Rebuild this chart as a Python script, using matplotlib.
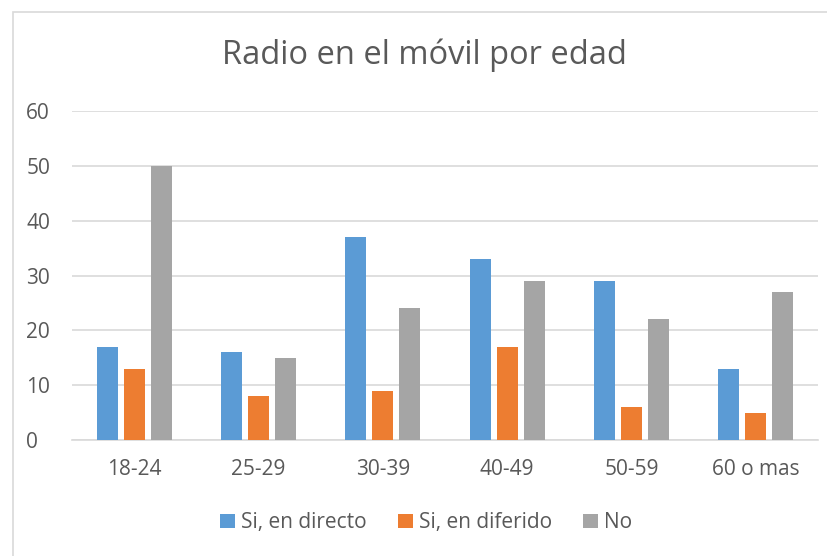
import numpy as np
import matplotlib.pyplot as plt
from matplotlib.patches import Rectangle

# Datos del gráfico
categorias = ['18-24', '25-29', '30-39', '40-49', '50-59', '60 o mas']
directo = [17, 16, 37, 33, 29, 13]
diferido = [13, 8, 9, 17, 6, 5]
no = [50, 15, 24, 29, 22, 27]
series = ['Si, en directo', 'Si, en diferido', 'No']
colores = ['#5B9BD5', '#ED7D31', '#A5A5A5']

plt.rcParams['font.family'] = ['Open Sans', 'DejaVu Sans']
texto = '#595959'

fig = plt.figure(figsize=(8.28, 5.56), dpi=100)
ax = fig.add_axes([0.087, 0.2086, 0.901, 0.5917])

x = np.arange(len(categorias))
ancho = 0.17
paso = 0.217
for i, (vals, nombre, col) in enumerate(zip([directo, diferido, no], series, colores)):
    ax.bar(x + (i - 1) * paso, vals, ancho, color=col, label=nombre, zorder=3)

ax.set_xlim(-0.5, len(categorias) - 0.5)
ax.set_ylim(0, 60)
ax.set_yticks(range(0, 61, 10))
ax.set_xticks(x)
ax.set_xticklabels(categorias)
ax.grid(axis='y', color='#D9D9D9', linewidth=1.2, zorder=0)
for s in ['top', 'right', 'left']:
    ax.spines[s].set_visible(False)
ax.spines['bottom'].set_color('#D9D9D9')
ax.spines['bottom'].set_linewidth(1.2)
ax.tick_params(axis='both', length=0, labelsize=15, colors=texto)
ax.tick_params(axis='x', pad=14)
ax.tick_params(axis='y', pad=33)
for lbl in ax.get_yticklabels():
    lbl.set_horizontalalignment('left')

fig.text(0.513, 0.9, 'Radio en el móvil por edad', ha='center', va='center',
         fontsize=23.5, color=texto)

fig.legend(loc='center', bbox_to_anchor=(0.515, 0.06), ncol=3, frameon=False,
           fontsize=15, labelcolor=texto, handlelength=0.7, handleheight=0.7,
           handletextpad=0.3, columnspacing=1.5)

fig.patches.append(Rectangle((13 / 828, -0.05), 1.0, 1.05 - 12 / 556,
                             transform=fig.transFigure, fill=False,
                             edgecolor='#D9D9D9', linewidth=1.2))

fig.savefig('out.png', dpi=100)
